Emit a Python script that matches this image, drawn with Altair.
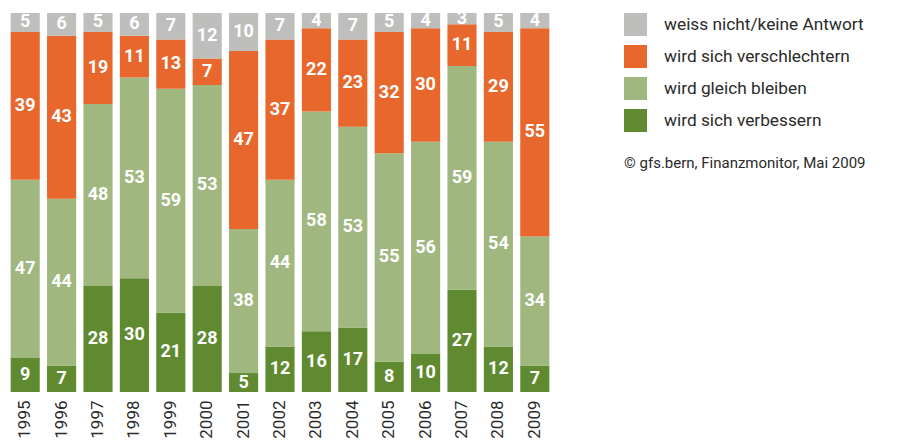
import altair as alt
import pandas as pd

years = ["1995", "1996", "1997", "1998", "1999", "2000", "2001", "2002",
         "2003", "2004", "2005", "2006", "2007", "2008", "2009"]
verbessern = [9, 7, 28, 30, 21, 28, 5, 12, 16, 17, 8, 10, 27, 12, 7]
gleich = [47, 44, 48, 53, 59, 53, 38, 44, 58, 53, 55, 56, 59, 54, 34]
verschlechtern = [39, 43, 19, 11, 13, 7, 47, 37, 22, 23, 32, 30, 11, 29, 55]
weiss_nicht = [5, 6, 5, 6, 7, 12, 10, 7, 4, 7, 5, 4, 3, 5, 4]

categories = ["weiss nicht/keine Antwort", "wird sich verschlechtern",
              "wird gleich bleiben", "wird sich verbessern"]
colors = ["#BEBEBC", "#E8672C", "#A0B87F", "#5F8A2F"]
source = "© gfs.bern, Finanzmonitor, Mai 2009"

series = {
    "wird sich verbessern": verbessern,
    "wird gleich bleiben": gleich,
    "wird sich verschlechtern": verschlechtern,
    "weiss nicht/keine Antwort": weiss_nicht,
}
stack_order = {"wird sich verbessern": 0, "wird gleich bleiben": 1,
               "wird sich verschlechtern": 2, "weiss nicht/keine Antwort": 3}

rows = []
for cat, vals in series.items():
    for y, v in zip(years, vals):
        rows.append({"year": y, "cat": cat, "value": v, "order": stack_order[cat]})
df = pd.DataFrame(rows)

base = alt.Chart(df).transform_stack(
    stack="value", groupby=["year"], sort=[alt.SortField("order", order="ascending")],
    as_=["y0", "y1"]
).transform_calculate(mid="(datum.y0 + datum.y1) / 2")

x_enc = alt.X("year:N", sort=years, title=None,
              scale=alt.Scale(paddingInner=0.2, paddingOuter=0.1),
              axis=alt.Axis(labelAngle=270, labelFont="Roboto", labelFontSize=17,
                            labelColor="#2a2a2a", labelPadding=8, ticks=False,
                            domain=False, grid=False))
y_scale = alt.Scale(domain=[0, 100])

bars = base.mark_bar(strokeWidth=0).encode(
    x=x_enc,
    y=alt.Y("y0:Q", scale=y_scale, axis=None),
    y2="y1:Q",
    color=alt.Color("cat:N", scale=alt.Scale(domain=categories, range=colors),
                    legend=alt.Legend(title=None)),
)

labels = base.mark_text(color="white", font="Roboto", fontWeight="bold",
                        fontSize=18, baseline="middle", align="center").encode(
    x=alt.X("year:N", sort=years),
    y=alt.Y("mid:Q", scale=y_scale),
    text="value:Q",
)

note = alt.Chart(pd.DataFrame({"t": [source]})).mark_text(
    align="left", baseline="middle", font="Roboto", fontSize=15, color="#2a2a2a"
).encode(x=alt.value(617), y=alt.value(150), text="t:N")

chart = alt.layer(bars, labels, note).properties(
    width=546, height=379,
    autosize=alt.AutoSizeParams(type="none"),
    padding={"left": 7, "top": 13, "right": 358, "bottom": 49},
).configure_view(stroke=None).configure_legend(
    orient="none", legendX=617, legendY=0, padding=0,
    symbolType="square", symbolSize=529, symbolStrokeWidth=0, symbolOpacity=1,
    labelFont="Roboto", labelFontSize=17.3, labelColor="#2a2a2a",
    labelOffset=17, rowPadding=9, labelLimit=400,
)

chart.save("out.html", embed_options={"renderer": "svg", "actions": False})
